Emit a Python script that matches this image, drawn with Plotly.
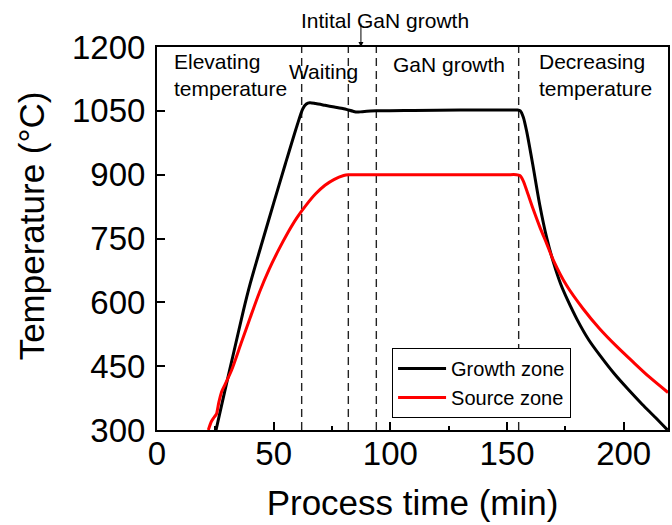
import plotly.graph_objects as go

# ---- data ----
growth_t = [25.3, 29, 33, 37, 40, 45, 50, 55, 60, 62.5, 64, 65.5, 68, 72, 76, 80, 82, 84,
            85.7, 88, 94, 110, 130, 150, 154.5, 155.7, 157, 158.5, 161, 164, 167, 170,
            173, 176, 180, 185, 190, 196, 202, 208, 213.5, 218.8]
growth_T = [300, 390, 485, 580, 645, 740, 833, 925, 1015, 1055, 1066, 1069, 1067, 1063,
            1059, 1055, 1052, 1049, 1047, 1048, 1050, 1051, 1052, 1052, 1052, 1050, 1035,
            1000, 925, 830, 752, 692, 643, 605, 560, 512, 474, 432, 395, 360, 330, 300]

source_t = [22, 23.3, 24.5, 25.5, 26.5, 27.7, 29, 32, 36, 40, 44, 48, 52, 56, 60, 64,
            68, 72, 76, 80, 82, 84, 90, 110, 130, 150, 154, 155.5, 157, 158.5, 161, 164,
            167, 169.8, 175.5, 182.6, 189.7, 196.9, 204, 211.1, 219]
source_T = [300, 320, 330, 338, 365, 390, 405, 441, 503, 565, 625, 677, 722, 763, 799,
            829, 855, 875, 889, 898, 900, 900, 900, 900, 900, 900, 900, 898, 885, 862,
            822, 778, 738, 700, 640, 585, 538, 497, 460, 424, 388]

phase_bounds = [62, 82, 94, 155]
initial_growth_t = 87.4

x_ticks = [0, 50, 100, 150, 200]
y_ticks = [300, 450, 600, 750, 900, 1050, 1200]

FONT = "Liberation Sans, Arial, sans-serif"

fig = go.Figure()
fig.add_trace(go.Scatter(x=growth_t, y=growth_T, mode="lines", name="Growth zone",
                         line=dict(color="black", width=3, shape="spline", smoothing=0.7)))
fig.add_trace(go.Scatter(x=source_t, y=source_T, mode="lines", name="Source zone",
                         line=dict(color="#ff0000", width=3, shape="spline", smoothing=0.7)))

for xb in phase_bounds:
    fig.add_shape(type="line", xref="x", yref="paper", x0=xb, x1=xb, y0=0, y1=1,
                  line=dict(color="#222222", width=1.4, dash="8px,5px"), layer="below")

ann_font = dict(family=FONT, size=21, color="black")
fig.add_annotation(x=6.5, y=1162, xref="x", yref="y", text="Elevating<br>temperature",
                   showarrow=False, xanchor="left", yanchor="middle", align="left",
                   font=ann_font, yshift=-12)
fig.add_annotation(x=71.3, y=1142, xref="x", yref="y", text="Waiting",
                   showarrow=False, xanchor="center", yanchor="middle", font=ann_font)
fig.add_annotation(x=125, y=1160, xref="x", yref="y", text="GaN growth",
                   showarrow=False, xanchor="center", yanchor="middle", font=ann_font)
fig.add_annotation(x=163, y=1162, xref="x", yref="y", text="Decreasing<br>temperature",
                   showarrow=False, xanchor="left", yanchor="middle", align="left",
                   font=ann_font, yshift=-12)
fig.add_annotation(x=97.6, y=1.07, xref="x", yref="paper", text="Intital GaN growth",
                   showarrow=False, xanchor="center", yanchor="middle", font=ann_font)
fig.add_annotation(x=initial_growth_t, y=1200, xref="x", yref="y", text="",
                   showarrow=True, ax=0, ay=-25, arrowhead=2, arrowsize=1, arrowwidth=1,
                   arrowcolor="black")
# y-axis title placed as rotated text
fig.add_annotation(x=-0.2456, y=0.533, xref="paper", yref="paper", text="Temperature (°C)",
                   textangle=-90, showarrow=False, xanchor="center", yanchor="middle",
                   font=dict(family=FONT, size=35, color="black"))

fig.update_layout(
    width=672, height=525,
    margin=dict(l=157, r=2, t=47, b=95),
    paper_bgcolor="white", plot_bgcolor="white",
    font=dict(family=FONT, color="black"),
    showlegend=True,
    legend=dict(x=0.46, y=0.214, xanchor="left", yanchor="top",
                bgcolor="white", bordercolor="black", borderwidth=1,
                font=dict(family=FONT, size=20, color="black"),
                itemwidth=48, tracegroupgap=0),
    xaxis=dict(range=[0, 219], tickvals=x_ticks, ticks="inside", ticklen=8, tickwidth=2,
               tickcolor="black", showline=True, linewidth=2, linecolor="black",
               mirror=True, showgrid=False, zeroline=False,
               tickfont=dict(family=FONT, size=33), ticklabelstandoff=-7,
               minor=dict(dtick=25, tick0=0, ticks="inside", ticklen=4, tickwidth=2,
                          tickcolor="black", showgrid=False),
               title=dict(text="Process time (min)", font=dict(family=FONT, size=35),
                          standoff=20)),
    yaxis=dict(range=[300, 1200], tickvals=y_ticks, ticks="inside", ticklen=8, tickwidth=2,
               tickcolor="black", showline=True, linewidth=2, linecolor="black",
               mirror=True, showgrid=False, zeroline=False,
               tickfont=dict(family=FONT, size=33), ticklabelstandoff=3),
)

fig.write_html("out.html")
